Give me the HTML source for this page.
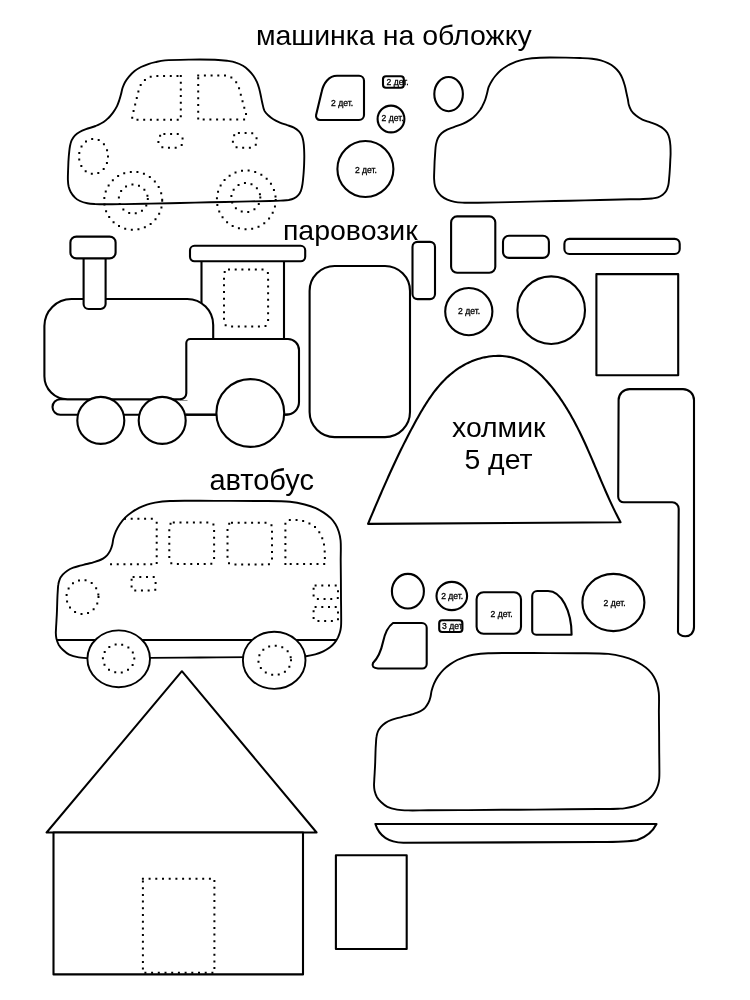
<!DOCTYPE html>
<html><head><meta charset="utf-8">
<style>
html,body{margin:0;padding:0;background:#fff;}
svg{display:block;will-change:transform;}
text{font-family:"Liberation Sans",sans-serif;fill:#000;}
.o{fill:#fff;stroke:#000;stroke-width:2.1;stroke-linejoin:round;}
.c{fill:#fff;stroke:#000;stroke-width:1.9;stroke-linejoin:round;}
.n{fill:none;stroke:#000;stroke-width:2.1;}
.d{fill:none;stroke:#000;stroke-width:2;stroke-linecap:square;stroke-dasharray:0 6.7;}
.s{font-size:8.6px;stroke:#000;stroke-width:0.3px;}
.t{font-size:29px;}
</style></head><body>
<svg width="750" height="1000" viewBox="0 0 750 1000">
<!-- titles -->
<text class="t" x="255.9" y="45.1" style="font-size:28.5px">машинка на обложку</text>
<text class="t" x="282.9" y="239.8" style="font-size:28.5px">паровозик</text>
<text class="t" x="209.4" y="489.5">автобус</text>

<!-- CAR 1 -->
<path class="c" d="M190.0 59.6 C198.3 59.5 208.2 59.5 215.0 59.8 C219.7 60.0 223.3 60.3 227.0 60.8 C230.2 61.3 233.1 61.7 235.8 62.6 C238.4 63.4 240.8 64.5 243.0 65.8 C245.1 67.0 246.9 68.6 248.6 70.2 C250.4 71.9 252.0 73.8 253.4 75.8 C254.8 77.8 256.0 80.0 257.0 82.2 C258.0 84.5 258.7 87.0 259.4 89.4 C260.1 91.8 260.5 94.3 261.0 96.6 C261.4 98.7 261.7 100.4 262.2 102.5 C262.8 105.1 263.3 108.6 264.5 110.9 C265.5 112.7 266.8 113.9 268.2 115.3 C269.7 116.7 271.4 118.1 273.3 119.3 C275.3 120.6 277.7 121.6 280.0 122.6 C282.4 123.6 284.9 124.3 287.3 125.2 C289.6 126.0 291.9 126.6 293.9 127.7 C295.8 128.7 297.6 130.0 299.0 131.4 C300.2 132.7 301.2 134.2 301.9 135.8 C302.7 137.6 303.0 139.6 303.4 141.7 C303.8 144.0 304.0 146.6 304.1 149.0 C304.2 151.4 304.3 153.8 304.3 156.3 C304.3 159.1 304.2 162.1 304.1 165.0 C304.0 167.8 303.8 170.4 303.6 173.3 C303.3 176.6 303.0 180.8 302.5 184.0 C302.1 186.6 301.7 188.9 300.9 190.9 C300.2 192.6 299.4 194.0 298.3 195.2 C297.1 196.5 295.6 197.6 294.0 198.4 C292.4 199.2 290.7 199.6 288.7 200.0 C286.3 200.4 283.6 200.4 280.7 200.6 C277.4 200.8 274.5 200.9 270.0 201.0 C262.5 201.2 250.0 201.4 240.0 201.6 C230.0 201.8 220.0 202.1 210.0 202.3 C200.0 202.5 190.0 202.8 180.0 203.0 C170.0 203.2 159.5 203.4 150.0 203.6 C141.3 203.8 132.0 204.0 125.0 204.1 C120.0 204.2 116.6 204.3 112.0 204.3 C106.8 204.3 99.8 204.4 95.3 204.1 C92.1 203.9 89.9 203.8 87.3 203.3 C84.8 202.8 82.2 202.1 80.0 201.0 C78.0 200.0 76.2 198.8 74.7 197.3 C73.1 195.8 71.7 193.8 70.7 192.0 C69.8 190.3 69.2 188.6 68.7 186.7 C68.2 184.6 68.0 182.5 67.9 180.0 C67.8 177.0 68.0 173.1 68.1 170.0 C68.2 167.2 68.3 164.7 68.4 162.0 C68.6 159.3 68.7 156.7 69.0 154.0 C69.3 151.3 69.5 148.4 70.0 146.0 C70.4 143.9 70.8 142.1 71.6 140.4 C72.4 138.7 73.5 137.0 74.8 135.6 C76.1 134.2 77.8 133.0 79.6 132.0 C81.5 130.9 83.6 130.1 86.0 129.2 C88.9 128.1 92.6 127.2 95.6 126.0 C98.4 124.8 101.4 123.5 103.6 122.0 C105.4 120.8 106.7 119.7 108.2 118.2 C109.9 116.6 111.5 114.6 113.0 112.6 C114.5 110.6 115.9 108.4 117.0 106.2 C118.0 104.1 118.7 101.9 119.4 99.8 C120.0 97.9 120.5 96.1 121.0 94.2 C121.6 92.1 121.9 89.8 122.6 87.8 C123.3 85.8 124.0 84.0 125.0 82.2 C126.1 80.3 127.5 78.4 129.0 76.6 C130.6 74.7 132.6 72.6 134.6 71.0 C136.6 69.4 138.7 68.2 141.0 67.0 C143.5 65.7 146.3 64.7 149.0 63.8 C151.6 62.9 154.3 62.4 157.0 61.8 C159.7 61.2 161.6 60.8 165.0 60.4 C171.0 59.8 181.7 59.7 190.0 59.6 Z"/>
<path class="d" d="M180.8 76 L180.8 119.8 L134 119.8 Q131.8 119.8 132.3 116 L138.6 90.5 Q141.5 79 153 76 Z"/>
<path class="d" d="M198.2 75.6 L225 75.6 C231 76 236.5 80 239 88 L246.4 115.5 Q247 119.6 243 119.6 L198.2 119.6 Z"/>
<rect class="d" x="158.4" y="133.9" width="24.3" height="13.8" rx="6"/>
<rect class="d" x="232.9" y="133" width="23.7" height="14.7" rx="6"/>
<ellipse class="d" cx="93.5" cy="156.4" rx="14.5" ry="17.5"/>
<circle class="d" cx="133.2" cy="200.8" r="29"/>
<circle class="d" cx="133.3" cy="199" r="14.5"/>
<circle class="d" cx="246.3" cy="199.9" r="29.4"/>
<circle class="d" cx="245.8" cy="197.6" r="14.5"/>

<!-- small car pieces -->
<path class="o" d="M337 75.8 L359 75.8 A5 5 0 0 1 364 80.8 L364 115 A5 5 0 0 1 359 120 L320 120 A4 4 0 0 1 316.1 115.1 L321.6 92 C323.5 83 329 75.8 337 75.8 Z"/>
<text class="s" x="342" y="106" text-anchor="middle">2 дет.</text>
<rect class="o" x="383" y="76.2" width="20.8" height="11.6" rx="3"/>
<text class="s" x="397.5" y="85.3" text-anchor="middle">2 дет.</text>
<circle class="o" cx="391" cy="119" r="13.4"/>
<text class="s" x="392.6" y="120.7" text-anchor="middle">2 дет.</text>
<circle class="o" cx="365.4" cy="169" r="28"/>
<text class="s" x="365.9" y="173.3" text-anchor="middle">2 дет.</text>
<ellipse class="o" cx="448.6" cy="94.1" rx="14.3" ry="17.1"/>

<!-- CAR 2 -->
<path class="c" d="M550.0 57.5 C554.5 57.5 560.0 57.5 565.0 57.6 C570.0 57.7 575.3 57.8 580.0 58.0 C584.2 58.2 588.3 58.3 592.0 58.8 C595.2 59.2 598.0 59.6 600.8 60.4 C603.4 61.1 605.7 62.1 608.0 63.2 C610.3 64.3 612.5 65.6 614.4 67.2 C616.2 68.7 617.9 70.5 619.2 72.4 C620.5 74.3 621.5 76.3 622.4 78.4 C623.4 80.7 624.1 83.2 624.8 85.6 C625.5 88.0 625.9 90.4 626.4 92.8 C626.9 95.2 627.6 97.8 628.0 100.0 C628.3 101.8 628.3 103.2 628.8 104.8 C629.3 106.6 630.1 108.7 631.2 110.4 C632.4 112.3 634.2 114.1 636.0 115.6 C637.9 117.2 640.1 118.5 642.4 119.6 C644.9 120.8 647.8 121.4 650.4 122.4 C652.9 123.3 655.4 124.1 657.6 125.2 C659.6 126.2 661.6 127.1 663.2 128.4 C664.8 129.6 666.2 131.1 667.2 132.8 C668.2 134.5 668.9 136.4 669.4 138.4 C670.0 140.6 670.2 143.1 670.4 145.6 C670.6 148.2 670.6 151.1 670.6 153.6 C670.6 155.9 670.4 157.8 670.3 160.0 C670.2 162.2 670.1 164.2 670.0 166.7 C669.8 169.7 669.6 173.5 669.3 176.7 C669.0 179.7 668.9 182.8 668.3 185.3 C667.8 187.3 667.3 189.1 666.3 190.7 C665.4 192.2 664.1 193.6 662.7 194.7 C661.3 195.8 659.7 196.7 658.0 197.3 C656.2 198.0 654.2 198.2 652.0 198.5 C649.4 198.8 646.5 198.9 643.3 199.0 C639.3 199.2 635.3 199.2 630.0 199.3 C622.0 199.5 610.0 199.8 600.0 200.0 C590.0 200.2 580.0 200.5 570.0 200.7 C560.0 200.9 550.0 201.2 540.0 201.4 C530.0 201.6 520.2 201.9 510.0 202.1 C499.5 202.3 486.4 202.7 478.0 202.8 C472.6 202.8 468.8 202.9 464.7 202.7 C461.1 202.5 457.8 202.5 454.7 201.9 C452.0 201.4 449.6 200.7 447.3 199.7 C445.1 198.7 443.0 197.5 441.3 196.0 C439.7 194.6 438.4 193.0 437.3 191.3 C436.3 189.7 435.5 187.9 435.0 186.0 C434.4 183.8 434.2 181.2 434.1 178.7 C434.0 175.9 434.2 172.9 434.3 170.0 C434.4 167.1 434.5 164.4 434.6 161.5 C434.8 158.5 435.0 155.3 435.2 152.4 C435.4 149.6 435.5 146.9 436.0 144.4 C436.5 142.1 437.0 139.9 438.0 138.0 C438.9 136.2 440.1 134.6 441.6 133.2 C443.2 131.8 445.2 130.6 447.2 129.6 C449.4 128.5 451.9 127.8 454.4 126.8 C457.2 125.8 460.5 124.8 463.2 123.6 C465.8 122.4 468.2 121.1 470.4 119.6 C472.5 118.2 474.4 116.5 476.0 114.8 C477.5 113.3 478.9 111.5 480.0 110.0 C480.9 108.7 481.4 107.8 482.2 106.4 C483.2 104.4 484.6 101.5 485.4 99.2 C486.1 97.2 486.5 95.5 487.0 93.6 C487.6 91.5 487.8 89.3 488.6 87.2 C489.5 84.8 491.1 82.0 492.4 80.0 C493.4 78.4 494.1 77.4 495.3 76.0 C496.8 74.2 498.8 71.9 500.8 70.2 C502.7 68.6 505.1 67.1 507.0 66.0 C508.5 65.1 509.3 64.6 511.0 63.8 C513.6 62.6 517.8 61.0 521.3 60.1 C524.8 59.2 528.7 58.7 532.0 58.3 C534.9 58.0 537.2 57.8 540.0 57.7 C543.1 57.6 546.3 57.5 550.0 57.5 Z"/>

<!-- TRAIN -->
<rect class="o" x="52.5" y="399.2" width="240" height="15.6" rx="7.8"/>
<rect class="o" x="201.5" y="255" width="82.5" height="90"/>
<path class="o" d="M71.4 299 L187.2 299 A26 26 0 0 1 213.2 325 L213.2 393.2 A6 6 0 0 1 207.2 399.2 L67.4 399.2 A23 23 0 0 1 44.4 376.2 L44.4 326 A27 27 0 0 1 71.4 299 Z"/>
<path class="o" d="M83.6 259 L83.6 304 A5 5 0 0 0 88.6 309 L100.6 309 A5 5 0 0 0 105.6 304 L105.6 259"/>
<rect class="o" x="70.4" y="236.6" width="45.2" height="21.8" rx="6"/>
<rect class="o" x="190" y="245.8" width="115.2" height="15.5" rx="4.5"/>
<path class="d" d="M229 269.6 L263.1 269.6 A5 5 0 0 1 268.1 274.6 L268.1 321.5 A5 5 0 0 1 263.1 326.5 L229 326.5 A5 5 0 0 1 224 321.5 L224 274.6 A5 5 0 0 1 229 269.6 Z"/>
<rect x="187.5" y="340" width="110" height="73.5" fill="#fff"/>
<rect x="181.5" y="389" width="6.5" height="11" fill="#fff"/>
<path class="n" d="M180.3 399.2 A6 6 0 0 0 186.3 393.2 L186.3 343 A4 4 0 0 1 190.3 339 L288 339 A11 11 0 0 1 299 350 L299 402 A12.6 12.6 0 0 1 286.4 414.6 L186 414.6"/>
<circle class="o" cx="100.8" cy="420.4" r="23.5"/>
<circle class="o" cx="162.2" cy="420.4" r="23.5"/>
<circle class="o" cx="250.3" cy="413" r="33.9"/>

<!-- train pieces -->
<rect class="o" x="309.6" y="266" width="100.4" height="171.1" rx="25"/>
<rect class="o" x="412.5" y="241.9" width="22.5" height="57.2" rx="5"/>
<rect class="o" x="451.1" y="216.4" width="44.2" height="56.3" rx="6"/>
<rect class="o" x="503" y="235.7" width="45.9" height="22.2" rx="6"/>
<rect class="o" x="564.4" y="238.9" width="115.3" height="15.1" rx="5"/>
<circle class="o" cx="468.8" cy="311.6" r="23.6"/>
<text class="s" x="469.1" y="314" text-anchor="middle">2 дет.</text>
<circle class="o" cx="551.2" cy="310.2" r="33.8"/>
<rect class="o" x="596.4" y="274.1" width="81.8" height="101.2"/>

<!-- hill -->
<path class="o" d="M368.01 523.85 L368.88 521.79 L369.74 519.74 L370.61 517.69 L371.47 515.64 L372.34 513.59 L373.20 511.55 L374.07 509.50 L374.94 507.46 L375.81 505.42 L376.68 503.38 L377.55 501.34 L378.42 499.31 L379.30 497.27 L380.18 495.24 L381.06 493.21 L381.94 491.19 L382.82 489.16 L383.71 487.14 L384.60 485.12 L385.49 483.10 L386.39 481.08 L387.29 479.06 L388.19 477.05 L389.09 475.04 L390.00 473.03 L390.92 471.02 L391.84 469.02 L392.76 467.01 L393.69 465.01 L394.62 463.01 L395.55 461.01 L396.49 459.02 L397.44 457.03 L398.39 455.04 L399.35 453.05 L400.31 451.06 L401.28 449.08 L402.26 447.10 L403.24 445.12 L404.23 443.14 L405.22 441.17 L406.22 439.19 L407.23 437.22 L408.24 435.26 L409.27 433.29 L410.30 431.33 L411.33 429.37 L412.38 427.41 L413.43 425.45 L414.49 423.50 L415.56 421.55 L416.64 419.60 L417.72 417.65 L418.82 415.71 L419.93 413.78 L421.04 411.85 L422.18 409.93 L423.32 408.01 L424.49 406.11 L425.66 404.23 L426.86 402.35 L428.08 400.49 L429.31 398.65 L430.57 396.83 L431.84 395.02 L433.15 393.24 L434.47 391.48 L435.82 389.74 L437.20 388.03 L438.61 386.34 L440.04 384.68 L441.51 383.05 L443.01 381.45 L444.53 379.89 L446.10 378.35 L447.69 376.85 L449.32 375.39 L450.99 373.97 L452.69 372.59 L454.42 371.25 L456.19 369.95 L457.99 368.70 L459.83 367.49 L461.70 366.34 L463.60 365.23 L465.54 364.18 L467.51 363.18 L469.52 362.24 L471.56 361.35 L473.64 360.53 L475.75 359.76 L477.89 359.06 L480.06 358.42 L482.26 357.85 L484.47 357.35 L486.70 356.92 L488.94 356.56 L491.19 356.27 L493.44 356.06 L495.69 355.93 L497.93 355.87 L500.17 355.90 L502.39 356.01 L504.59 356.21 L506.77 356.49 L508.92 356.85 L511.04 357.31 L513.13 357.86 L515.18 358.50 L517.20 359.22 L519.19 360.02 L521.15 360.90 L523.08 361.85 L524.97 362.87 L526.83 363.97 L528.66 365.13 L530.46 366.35 L532.23 367.63 L533.97 368.96 L535.69 370.35 L537.37 371.79 L539.02 373.27 L540.65 374.80 L542.25 376.37 L543.82 377.97 L545.36 379.61 L546.88 381.28 L548.37 382.98 L549.83 384.70 L551.27 386.44 L552.68 388.20 L554.07 389.98 L555.43 391.77 L556.77 393.57 L558.09 395.38 L559.38 397.20 L560.65 399.04 L561.90 400.88 L563.13 402.73 L564.34 404.60 L565.52 406.47 L566.69 408.36 L567.84 410.25 L568.97 412.15 L570.09 414.06 L571.18 415.97 L572.26 417.90 L573.33 419.83 L574.38 421.77 L575.41 423.72 L576.43 425.68 L577.44 427.64 L578.43 429.61 L579.42 431.58 L580.39 433.56 L581.35 435.54 L582.30 437.53 L583.23 439.53 L584.16 441.53 L585.09 443.53 L586.00 445.54 L586.90 447.55 L587.80 449.57 L588.70 451.59 L589.58 453.61 L590.46 455.64 L591.34 457.66 L592.21 459.69 L593.08 461.73 L593.95 463.76 L594.81 465.79 L595.68 467.83 L596.54 469.87 L597.40 471.90 L598.26 473.94 L599.12 475.98 L599.99 478.02 L600.85 480.05 L601.72 482.09 L602.59 484.13 L603.47 486.16 L604.35 488.19 L605.23 490.22 L606.12 492.25 L607.02 494.28 L607.92 496.30 L608.83 498.32 L609.74 500.34 L610.67 502.35 L611.60 504.36 L612.55 506.37 L613.50 508.37 L614.47 510.37 L615.45 512.36 L616.43 514.34 L617.43 516.33 L618.45 518.30 L619.48 520.27 L620.52 522.23 Z"/>
<text class="t" x="452" y="437.4" style="font-size:28.4px">холмик</text>
<text class="t" x="464.4" y="468.7" style="font-size:28.4px">5 дет</text>

<!-- L piece -->
<path class="o" d="M629.6 389.1 L683 389.1 A11 11 0 0 1 694 400.1 L694 627 C694 633 690 636.3 685.3 636.3 C681.5 636.3 678 634 678 632 L678.7 509 A6.5 6.5 0 0 0 672.2 502.3 L623.8 502.3 A5.6 5.6 0 0 1 618.2 496.7 L618.6 400.1 A11 11 0 0 1 629.6 389.1 Z"/>

<!-- BUS 1 -->
<path class="c" d="M55.8 632.6 C55.8 632.6 55.9 636.6 56.4 638.6 C56.9 640.7 57.7 643.1 58.8 645.0 C59.9 646.8 61.2 648.3 62.8 649.8 C64.6 651.5 66.7 653.4 69.2 654.6 C72.0 656.0 75.4 656.8 78.8 657.4 C82.4 658.0 85.7 658.1 90.0 658.2 C95.7 658.4 102.2 658.1 110.0 658.1 C121.0 658.0 135.9 658.0 150.0 657.9 C165.7 657.8 183.3 657.6 200.0 657.5 C216.7 657.4 235.5 657.2 250.0 657.1 C261.3 657.0 271.0 656.9 280.0 656.8 C287.3 656.7 295.3 656.7 300.0 656.5 C302.6 656.4 303.8 656.5 306.0 656.2 C308.8 655.8 312.3 655.1 315.3 654.3 C318.1 653.5 320.8 652.5 323.3 651.3 C325.7 650.2 328.0 648.8 330.0 647.3 C331.8 645.9 333.4 644.4 334.7 642.7 C336.0 641.0 337.1 639.1 338.0 637.3 C338.8 635.6 339.5 633.8 340.0 632.0 C340.5 630.3 340.8 628.6 341.0 626.7 C341.2 624.6 341.2 622.8 341.2 620.0 C341.2 615.1 341.1 606.7 341.0 600.0 C341.0 593.3 340.9 586.7 340.9 580.0 C340.8 573.3 340.8 566.6 340.7 560.0 C340.7 553.5 341.1 545.7 340.6 540.5 C340.2 537.0 339.7 534.5 338.8 531.7 C338.0 529.1 336.9 526.6 335.5 524.3 C334.1 521.9 332.3 519.7 330.3 517.7 C328.3 515.8 326.1 514.2 323.7 512.6 C321.2 511.0 318.6 509.5 315.7 508.2 C312.4 506.7 308.7 505.5 304.7 504.5 C300.2 503.3 295.8 502.3 290.0 501.7 C281.8 500.8 270.0 501.1 260.0 501.0 C250.0 500.9 240.0 500.9 230.0 500.9 C220.0 500.9 210.0 500.8 200.0 500.8 C190.0 500.8 178.3 500.5 170.0 501.0 C164.1 501.3 159.2 501.9 155.0 502.6 C151.9 503.2 149.6 503.7 147.0 504.6 C144.3 505.5 141.5 506.5 139.0 507.8 C136.5 509.1 134.1 510.6 131.8 512.2 C129.5 513.8 127.4 515.4 125.4 517.4 C123.4 519.4 121.4 521.8 119.8 524.2 C118.2 526.5 116.9 528.9 115.8 531.4 C114.8 533.8 114.0 536.3 113.4 538.6 C112.8 540.8 112.8 543.0 112.2 545.0 C111.7 547.0 111.1 548.9 110.2 550.6 C109.3 552.3 108.2 554.0 107.0 555.4 C105.8 556.7 104.4 557.7 103.0 558.6 C101.7 559.4 100.5 559.9 99.0 560.5 C97.3 561.2 95.3 561.7 93.3 562.3 C91.2 562.9 88.9 563.4 86.7 564.0 C84.5 564.6 82.2 565.1 80.0 565.7 C77.8 566.3 75.4 566.9 73.3 567.7 C71.2 568.5 69.1 569.5 67.3 570.7 C65.6 571.8 64.0 573.2 62.7 574.7 C61.5 576.1 60.4 577.6 59.7 579.3 C59.0 581.0 58.6 582.7 58.3 584.7 C57.9 586.9 57.9 589.5 57.7 592.0 C57.5 594.6 57.4 597.2 57.3 600.0 C57.2 603.1 57.1 606.7 57.0 610.0 C56.9 613.3 56.7 617.0 56.5 620.0 C56.4 622.5 56.2 624.8 56.1 627.0 C56.0 629.0 55.8 632.6 55.8 632.6 Z"/>
<line class="n" style="stroke-width:2" x1="57" y1="640" x2="337" y2="640"/>
<path class="d" d="M125 518.7 L152.4 518.7 L156.7 522.2 L156.7 564.2 L108 564.2"/>
<rect class="d" x="169.3" y="522.4" width="44.8" height="41.6" rx="4.5"/>
<rect class="d" x="227.5" y="522.8" width="44.5" height="41.6" rx="4.5"/>
<path class="d" d="M285.4 564 L285.4 523.6 Q285.4 520 289 520 L294 520 C303 520 311 523 316.5 528.5 C321 533.5 323.5 540 324.6 548 L325 564 Z"/>
<rect class="d" x="131.6" y="577" width="24" height="13.6" rx="2"/>
<ellipse class="d" cx="82.5" cy="597" rx="16" ry="17"/>
<rect class="d" x="313.6" y="585.6" width="24.4" height="13.4" rx="2"/>
<rect class="d" x="313.6" y="607" width="24.4" height="14" rx="2"/>
<ellipse class="c" cx="118.7" cy="658.8" rx="31.3" ry="28.4"/>
<ellipse class="d" cx="118.6" cy="658.5" rx="15.7" ry="14.2"/>
<ellipse class="c" cx="274.2" cy="660.3" rx="31.3" ry="28.6"/>
<ellipse class="d" cx="274.7" cy="660.3" rx="16.3" ry="14.7"/>

<!-- bottom small pieces -->
<ellipse class="o" cx="407.9" cy="591.2" rx="16" ry="17.3"/>
<ellipse class="o" cx="451.8" cy="596" rx="15.3" ry="14.1"/>
<text class="s" x="452.2" y="599" text-anchor="middle">2 дет.</text>
<rect class="o" x="439.2" y="620.3" width="23.2" height="11.7" rx="3"/>
<text class="s" x="452.4" y="629" text-anchor="middle">3 дет</text>
<rect class="o" x="476.6" y="592.2" width="44.4" height="41.6" rx="7"/>
<text class="s" x="501.6" y="617.4" text-anchor="middle">2 дет.</text>
<path class="o" d="M532.2 596 A5 5 0 0 1 537.2 591 L548 591 A23.6 43.7 0 0 1 571.6 634.7 L536.2 634.7 A4 4 0 0 1 532.2 630.7 Z"/>
<ellipse class="o" cx="613.4" cy="602.5" rx="31" ry="28.6"/>
<text class="s" x="614.6" y="605.6" text-anchor="middle">2 дет.</text>
<path class="o" d="M393 623 L421.9 623 A4.8 4.8 0 0 1 426.7 627.8 L426.7 664 A4.5 4.5 0 0 1 422.2 668.5 L378 668.5 Q371 668 373 663 Q380 656 383 642 Q386 628 393 623 Z"/>

<!-- BUS 2 -->
<path class="c" transform="translate(318.2,152.2)" d="M55.8 632.6 C55.8 632.6 55.9 636.6 56.4 638.6 C56.9 640.7 57.7 643.1 58.8 645.0 C59.9 646.8 61.2 648.3 62.8 649.8 C64.6 651.5 66.7 653.4 69.2 654.6 C72.0 656.0 75.4 656.8 78.8 657.4 C82.4 658.0 85.7 658.1 90.0 658.2 C95.7 658.4 102.2 658.1 110.0 658.1 C121.0 658.0 135.9 658.0 150.0 657.9 C165.7 657.8 183.3 657.6 200.0 657.5 C216.7 657.4 235.5 657.2 250.0 657.1 C261.3 657.0 271.0 656.9 280.0 656.8 C287.3 656.7 295.3 656.7 300.0 656.5 C302.6 656.4 303.8 656.5 306.0 656.2 C308.8 655.8 312.3 655.1 315.3 654.3 C318.1 653.5 320.8 652.5 323.3 651.3 C325.7 650.2 328.0 648.8 330.0 647.3 C331.8 645.9 333.4 644.4 334.7 642.7 C336.0 641.0 337.1 639.1 338.0 637.3 C338.8 635.6 339.5 633.8 340.0 632.0 C340.5 630.3 340.8 628.6 341.0 626.7 C341.2 624.6 341.2 622.8 341.2 620.0 C341.2 615.1 341.1 606.7 341.0 600.0 C341.0 593.3 340.9 586.7 340.9 580.0 C340.8 573.3 340.8 566.6 340.7 560.0 C340.7 553.5 341.1 545.7 340.6 540.5 C340.2 537.0 339.7 534.5 338.8 531.7 C338.0 529.1 336.9 526.6 335.5 524.3 C334.1 521.9 332.3 519.7 330.3 517.7 C328.3 515.8 326.1 514.2 323.7 512.6 C321.2 511.0 318.6 509.5 315.7 508.2 C312.4 506.7 308.7 505.5 304.7 504.5 C300.2 503.3 295.8 502.3 290.0 501.7 C281.8 500.8 270.0 501.1 260.0 501.0 C250.0 500.9 240.0 500.9 230.0 500.9 C220.0 500.9 210.0 500.8 200.0 500.8 C190.0 500.8 178.3 500.5 170.0 501.0 C164.1 501.3 159.2 501.9 155.0 502.6 C151.9 503.2 149.6 503.7 147.0 504.6 C144.3 505.5 141.5 506.5 139.0 507.8 C136.5 509.1 134.1 510.6 131.8 512.2 C129.5 513.8 127.4 515.4 125.4 517.4 C123.4 519.4 121.4 521.8 119.8 524.2 C118.2 526.5 116.9 528.9 115.8 531.4 C114.8 533.8 114.0 536.3 113.4 538.6 C112.8 540.8 112.8 543.0 112.2 545.0 C111.7 547.0 111.1 548.9 110.2 550.6 C109.3 552.3 108.2 554.0 107.0 555.4 C105.8 556.7 104.4 557.7 103.0 558.6 C101.7 559.4 100.5 559.9 99.0 560.5 C97.3 561.2 95.3 561.7 93.3 562.3 C91.2 562.9 88.9 563.4 86.7 564.0 C84.5 564.6 82.2 565.1 80.0 565.7 C77.8 566.3 75.4 566.9 73.3 567.7 C71.2 568.5 69.1 569.5 67.3 570.7 C65.6 571.8 64.0 573.2 62.7 574.7 C61.5 576.1 60.4 577.6 59.7 579.3 C59.0 581.0 58.6 582.7 58.3 584.7 C57.9 586.9 57.9 589.5 57.7 592.0 C57.5 594.6 57.4 597.2 57.3 600.0 C57.2 603.1 57.1 606.7 57.0 610.0 C56.9 613.3 56.7 617.0 56.5 620.0 C56.4 622.5 56.2 624.8 56.1 627.0 C56.0 629.0 55.8 632.6 55.8 632.6 Z"/>
<path class="o" d="M375.4 824 L656.5 824 C652 833 646 837 637.4 840 C630 841.5 620 842 600 842 L403.4 842.8 C386 842.3 378.5 834 375.4 824 Z"/>

<!-- HOUSE -->
<path class="o" style="stroke-width:2" d="M181.9 671.2 L46.6 832.5 L316.6 832.5 Z"/>
<rect class="o" x="53.5" y="832.5" width="249.5" height="141.9"/>
<rect class="d" x="142.9" y="878.8" width="71.5" height="94"/>
<rect class="o" x="335.9" y="855.3" width="70.8" height="93.7"/>
</svg>
</body></html>
